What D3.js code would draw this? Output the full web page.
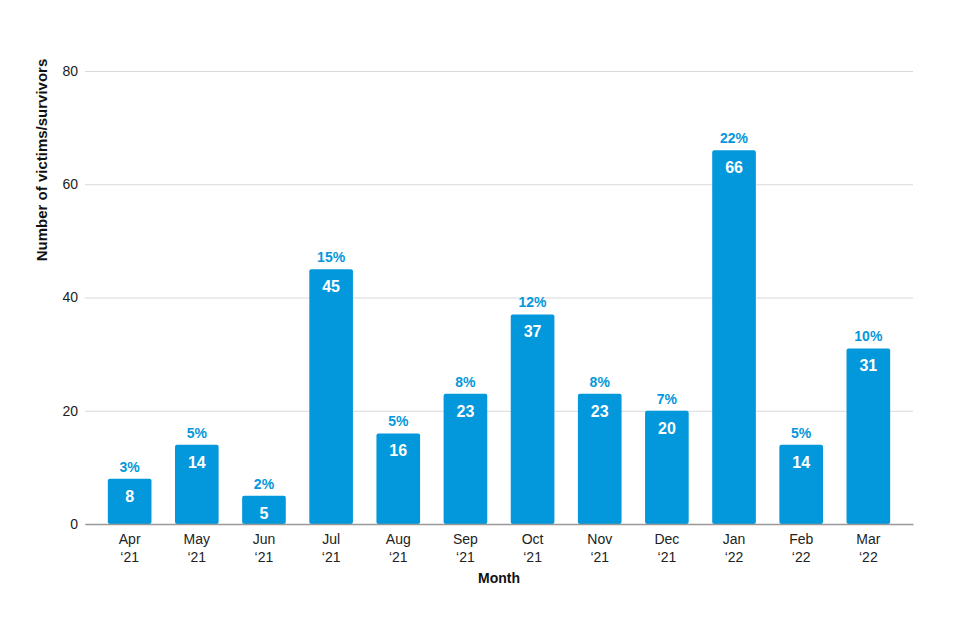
<!DOCTYPE html>
<html>
<head>
<meta charset="utf-8">
<script src="https://cdn.jsdelivr.net/npm/d3@7"></script>
<style>
body { margin: 0; background: #fff; }
svg { display: block; font-family: "Liberation Sans", Arial, sans-serif; }
</style>
</head>
<body>
<svg id="chart" width="960" height="640"></svg>
<script>
const months = ["Apr", "May", "Jun", "Jul", "Aug", "Sep", "Oct", "Nov", "Dec", "Jan", "Feb", "Mar"];
const years = ["‘21", "‘21", "‘21", "‘21", "‘21", "‘21", "‘21", "‘21", "‘21", "‘22", "‘22", "‘22"];
const values = [8, 14, 5, 45, 16, 23, 37, 23, 20, 66, 14, 31];
const percents = ["3%", "5%", "2%", "15%", "5%", "8%", "12%", "8%", "7%", "22%", "5%", "10%"];
const yTicks = [0, 20, 40, 60, 80];

(function () {
const blue = "#0398db";
const svg = d3.select("#chart");
const mLeft = 85, mRight = 913, mTop = 71, mBottom = 524;

const x = d3.scaleBand().domain(d3.range(months.length)).range([mLeft, mRight])
  .paddingInner(0.35).paddingOuter(0.34);
const y = d3.scaleLinear().domain([0, 80]).range([mBottom, mTop]);

// gridlines
const yAxis = d3.axisLeft(y).tickValues(yTicks).tickSize(-(mRight - mLeft)).tickPadding(7);
const gy = svg.append("g").attr("transform", `translate(${mLeft},0)`).call(yAxis);
gy.select(".domain").remove();
gy.selectAll(".tick line").attr("stroke", "#d9d9d9").attr("stroke-width", 1);
gy.selectAll(".tick text").attr("font-size", 14).attr("fill", "#222").attr("font-family", "Liberation Sans, Arial, sans-serif");

// bars
const g = svg.append("g");
g.selectAll("rect.bar").data(values).join("rect")
  .attr("class", "bar")
  .attr("x", (d, i) => x(i))
  .attr("y", d => y(d))
  .attr("width", x.bandwidth())
  .attr("height", d => y(0) - y(d))
  .attr("rx", 2).attr("ry", 2)
  .attr("fill", blue);

// value labels
g.selectAll("text.val").data(values).join("text")
  .attr("class", "val")
  .attr("x", (d, i) => x(i) + x.bandwidth() / 2)
  .attr("y", d => y(d) + 23)
  .attr("text-anchor", "middle")
  .attr("font-size", 16).attr("font-weight", "bold")
  .attr("fill", "#fff")
  .text(d => d);

// percent labels
g.selectAll("text.pct").data(values).join("text")
  .attr("class", "pct")
  .attr("x", (d, i) => x(i) + x.bandwidth() / 2)
  .attr("y", d => y(d) - 7)
  .attr("text-anchor", "middle")
  .attr("font-size", 14).attr("font-weight", "bold")
  .attr("fill", blue)
  .text((d, i) => percents[i]);

// x axis
const xAxis = d3.axisBottom(x).tickSize(0).tickFormat(() => "");
const gx = svg.append("g").attr("transform", `translate(0,${mBottom})`).call(xAxis);
gx.select(".domain").attr("stroke", "#999").attr("stroke-width", 1.5);
gx.selectAll(".tick text").remove();
gx.selectAll(".tick").append("text")
  .attr("text-anchor", "middle").attr("font-size", 14).attr("fill", "#222")
  .each(function(d, i) {
    const t = d3.select(this);
    t.append("tspan").attr("x", 0).attr("y", 20).text(months[i]);
    t.append("tspan").attr("x", 0).attr("y", 38).text(years[i]);
  });

// axis titles
svg.append("text")
  .attr("x", (mLeft + mRight) / 2).attr("y", 583)
  .attr("text-anchor", "middle").attr("font-size", 14).attr("font-weight", "bold")
  .attr("fill", "#111").text("Month");
svg.append("text")
  .attr("transform", "translate(47,160) rotate(-90)")
  .attr("text-anchor", "middle").attr("font-size", 15).attr("font-weight", "bold")
  .attr("fill", "#111").text("Number of victims/survivors");
})();
</script>
</body>
</html>
